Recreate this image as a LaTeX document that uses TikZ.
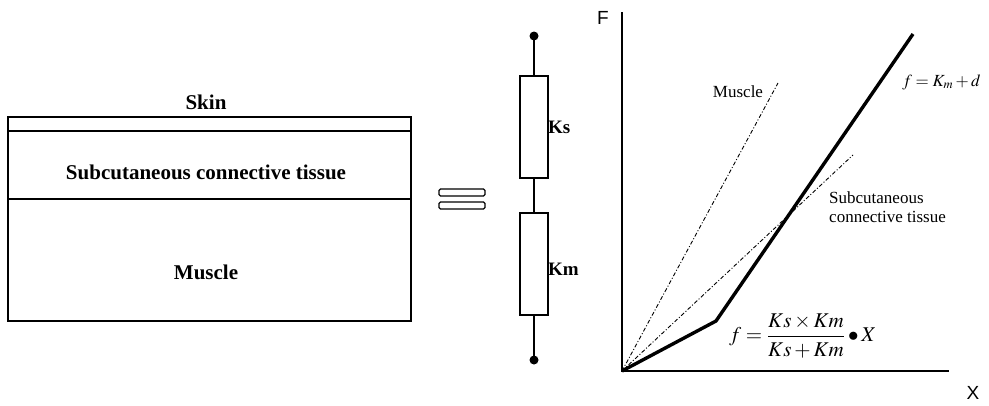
\documentclass[tikz,border=0pt]{standalone}
\usepackage{amsmath}
\usepackage{mathptmx}
\usepackage{fontspec}
\setmainfont{Liberation Serif}
\newfontfamily\axisfont{Liberation Sans}
\begin{document}
\begin{tikzpicture}[x=1pt,y=-1pt,
  layer/.style={font=\fontsize{21}{24}\selectfont\bfseries},
  resist/.style={draw,line width=1.2pt,minimum width=28pt,minimum height=102pt,inner sep=0pt},
  klabel/.style={font=\fontsize{19}{22}\selectfont\bfseries,anchor=west,inner sep=0pt},
  eqbar/.style={draw,line width=1.2pt,rounded corners=1.5pt},
  wire/.style={line width=1.2pt},
  axis/.style={line width=1.1pt},
  curve/.style={line width=3.4pt,line join=round},
  ref/.style={line width=0.9pt,dash pattern=on 4pt off 2pt on 1pt off 2pt},
  graphlbl/.style={font=\fontsize{17}{19}\selectfont,inner sep=0pt},
  axlbl/.style={font=\axisfont\fontsize{19}{21}\selectfont,inner sep=0pt}]
\useasboundingbox (0,0) rectangle (989,405);
% tissue block
\draw[line width=1.2pt] (8,117) rectangle (411,321);
\draw[line width=1.2pt] (8,131) -- (411,131);
\draw[line width=1.2pt] (8,199) -- (411,199);
\node[layer] (skin) at (206,102) {Skin};
\node[layer] (subc) at (206,172) {Subcutaneous connective tissue};
\node[layer] (musc) at (206,272) {Muscle};
% equals sign
\draw[eqbar] (439,189) rectangle (485,196);
\draw[eqbar] (439,202) rectangle (485,209);
% spring model
\coordinate (topdot) at (534,36);
\coordinate (botdot) at (534,360);
\node[resist] (ks) at (534,127) {};
\node[resist] (km) at (534,264) {};
\draw[wire] (topdot) -- (ks.north);
\draw[wire] (ks.south) -- (km.north);
\draw[wire] (km.south) -- (botdot);
\fill (topdot) circle (4.5pt);
\fill (botdot) circle (4.5pt);
\node[klabel] (kslbl) at (548,127) {Ks};
\node[klabel] (kmlbl) at (548,269) {Km};
% graph
\coordinate (O) at (622,371);
\coordinate (ytop) at (622,12);
\coordinate (xend) at (949,371);
\draw[axis] (ytop) -- (O) -- (xend);
\node[axlbl] (F) at (603,18) {F};
\node[axlbl] (X) at (973,393) {X};
\coordinate (knee) at (716,321);
\coordinate (ctop) at (913,34);
\coordinate (mend) at (778,83);
\coordinate (send) at (853,155);
\draw[ref] (O) -- (mend);
\draw[ref] (O) -- (send);
\draw[curve] (O) -- (knee) -- (ctop);
\node[graphlbl] (mlbl) at (738,92) {Muscle};
\node[graphlbl,anchor=north west,align=left] (slbl) at (829,191) {Subcutaneous\\connective tissue};
\node[graphlbl,anchor=west,font=\fontsize{17}{20}\selectfont] (eq1) at (902,82) {$f=K_m+d$};
\node[graphlbl,anchor=west,font=\fontsize{21}{24}\selectfont] (eq2) at (729,336) {$f=\dfrac{Ks\times Km}{Ks+Km}\bullet X$};
\end{tikzpicture}
\end{document}
